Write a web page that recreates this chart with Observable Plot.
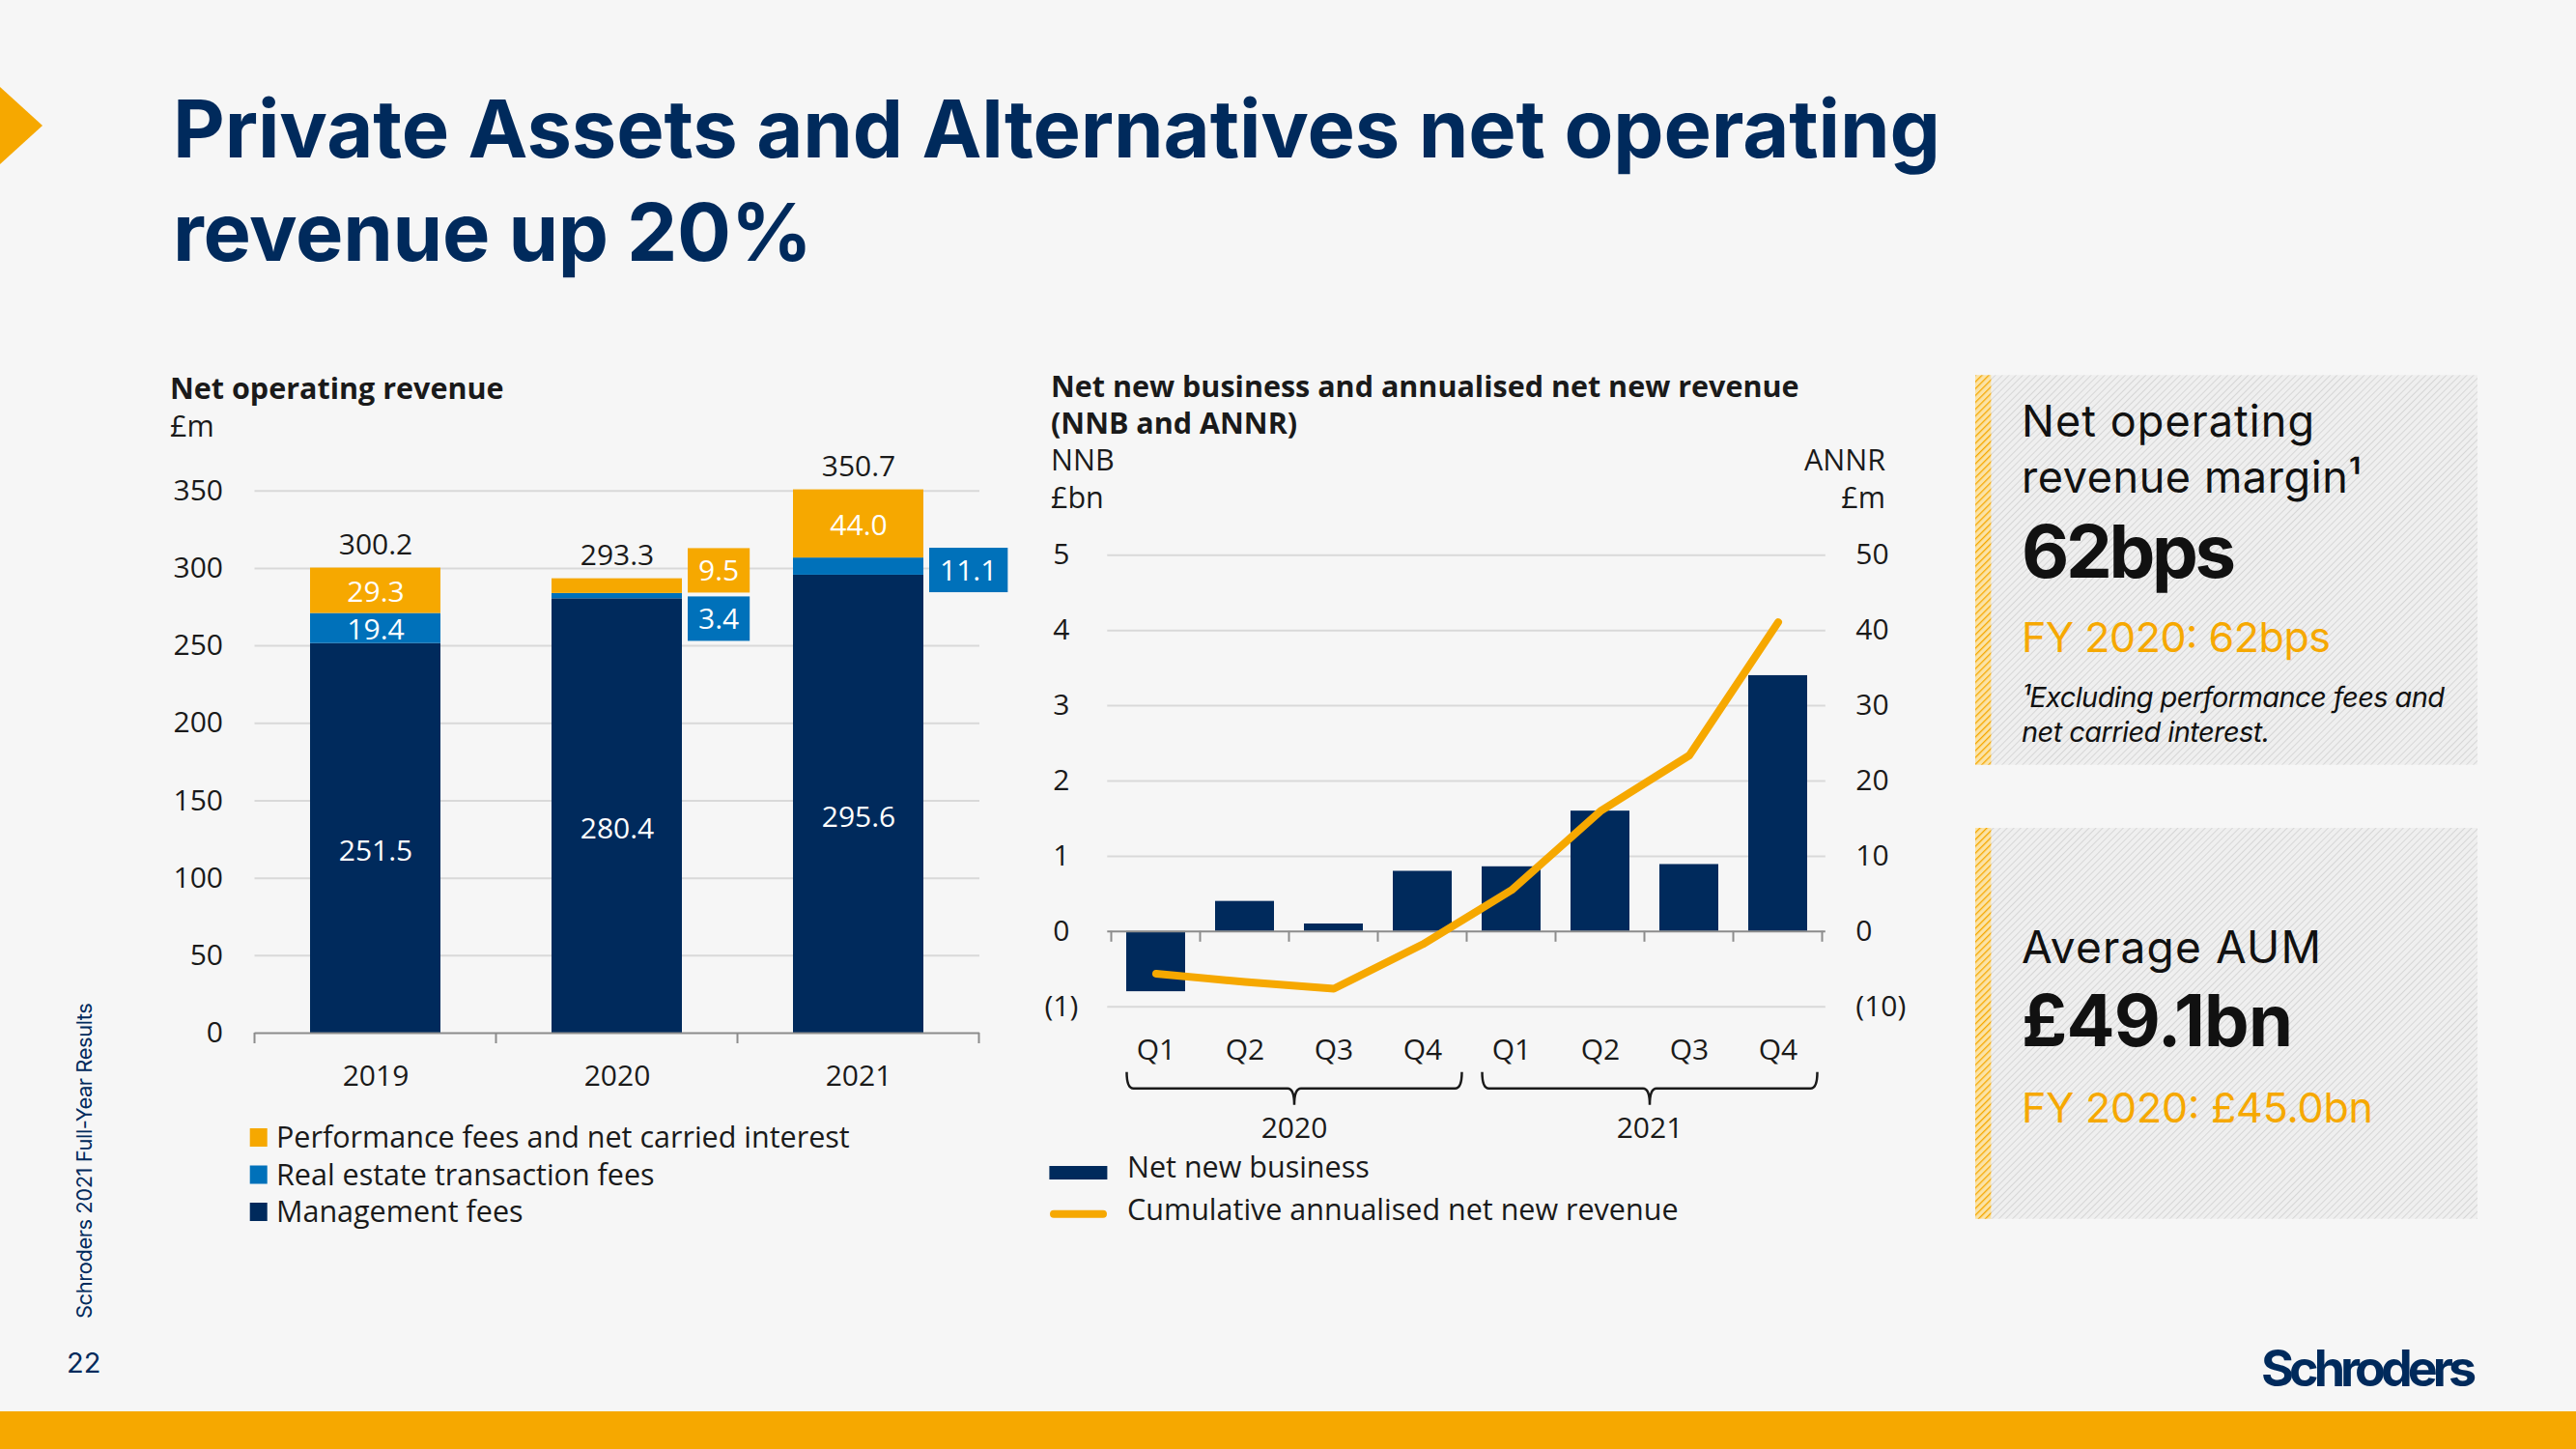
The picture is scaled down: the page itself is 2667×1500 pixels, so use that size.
<!DOCTYPE html>
<html>
<head>
<meta charset="utf-8">
<script src="https://cdn.jsdelivr.net/npm/d3@7"></script>
<script src="https://cdn.jsdelivr.net/npm/@observablehq/plot@0.6"></script>
<style>
  html, body { margin: 0; padding: 0; background: #f6f6f6; overflow: hidden; }
  #page { position: relative; width: 2667px; height: 1500px; background: #f6f6f6; overflow: hidden; }
  #deco { position: absolute; left: 0; top: 0; }
  .chart { position: absolute; }
</style>
</head>
<body>
<div id="page">
  <svg id="deco" width="2667" height="1500"></svg>
  <div id="left" class="chart" style="left:160px; top:440px;"></div>
  <div id="right" class="chart" style="left:1060px; top:540px;"></div>
</div>
<script>
// ---------------- DATA ----------------
const years = ["2019", "2020", "2021"];
const managementFees = [251.5, 280.4, 295.6];
const realEstateFees = [19.4, 3.4, 11.1];
const performanceFees = [29.3, 9.5, 44.0];
const totals = [300.2, 293.3, 350.7];
const seriesNames = ["Performance fees and net carried interest", "Real estate transaction fees", "Management fees"];
const revenueTicks = [0, 50, 100, 150, 200, 250, 300, 350];

const quarterLabels = ["Q1", "Q2", "Q3", "Q4", "Q1", "Q2", "Q3", "Q4"];
const quarterYears = ["2020", "2020", "2020", "2020", "2021", "2021", "2021", "2021"];
const nnb = [-0.8, 0.4, 0.1, 0.8, 0.86, 1.6, 0.89, 3.4];        // £bn
const annr = [-5.6, -6.7, -7.6, -1.7, 5.5, 16.0, 23.4, 41.1];   // £m, cumulative
const nnbTicks = [-1, 0, 1, 2, 3, 4, 5];
const annrTicks = [-10, 0, 10, 20, 30, 40, 50];
const groupYears = ["2020", "2021"];
const nnbLegend = ["Net new business", "Cumulative annualised net new revenue"];

// ---------------- STYLE ----------------
const navy = "#002A5C", orange = "#F6A800", blue = "#0071BA";
const gridC = "#d9d9d9", axisC = "#8c8c8c", ink = "#1a1a1a";
const bodyFont = "Open Sans";
const hdr = 30.5;

const paren = d => d < 0 ? `(${-d})` : `${d}`;
const canvas = document.createElement("canvas").getContext("2d");
function measure(s, font) { canvas.font = font; return canvas.measureText(s).width; }

// ---------------- LEFT CHART ----------------
const stackData = [];
years.forEach((yr, i) => {
  stackData.push({year: yr, series: seriesNames[2], value: managementFees[i]});
  stackData.push({year: yr, series: seriesNames[1], value: realEstateFees[i]});
  stackData.push({year: yr, series: seriesNames[0], value: performanceFees[i]});
});
const totalData = years.map((yr, i) => ({year: yr, total: totals[i]}));

const left = Plot.plot({
  width: 900, height: 720,
  marginTop: 67.7, marginBottom: 91, marginLeft: 103.5, marginRight: 46,
  style: {fontFamily: bodyFont, fontSize: "30px", background: "transparent", color: ink, overflow: "visible"},
  x: {domain: years, paddingInner: 0.46, paddingOuter: 0.23, label: null},
  y: {domain: [0, 350], label: null},
  color: {domain: seriesNames, range: [orange, blue, navy]},
  marks: [
    Plot.gridY(revenueTicks.filter(d => d !== 0), {stroke: gridC, strokeOpacity: 1, strokeWidth: 2}),
    Plot.barY(stackData, {x: "year", y: "value", fill: "series"}),
    Plot.ruleY([0], {stroke: axisC, strokeWidth: 2}),
    Plot.text(stackData, Plot.stackY({x: "year", y: "value",
      text: d => (d.series !== seriesNames[2] && d.value >= 15) ? d.value.toFixed(1) : "",
      fill: "white", fontSize: 30, dy: 2})),
    Plot.text(stackData, Plot.stackY({x: "year", y: "value",
      text: d => d.series === seriesNames[2] ? d.value.toFixed(1) : "",
      fill: "white", fontSize: 30, dy: 14})),
    Plot.text(totalData, {x: "year", y: "total", text: d => d.total.toFixed(1),
      lineAnchor: "bottom", dy: -14, fill: ink, fontSize: 30}),
    Plot.axisY(revenueTicks, {tickSize: 0, tickPadding: 33, label: null, fontSize: 30}),
    Plot.axisX({tickSize: 0, tickPadding: 33, label: null, fontSize: 30})
  ]
});
document.getElementById("left").appendChild(left);

(function decorateLeft() {
  const sx = left.scale("x"), sy = left.scale("y");
  const bw = sx.bandwidth;
  const step = sx.step || (sx.apply(years[1]) - sx.apply(years[0]));
  const g = d3.select(left).append("g");
  const y0 = sy.apply(0);
  const start = sx.apply(years[0]) - (step - bw) / 2;
  for (let k = 0; k <= years.length; k++) {
    const x = start + k * step;
    g.append("line").attr("x1", x).attr("x2", x).attr("y1", y0).attr("y2", y0 + 11)
      .attr("stroke", axisC).attr("stroke-width", 2);
  }
  // callouts for segments too small to hold their labels
  years.forEach((yr, i) => {
    const segs = [
      {v: performanceFees[i], lo: managementFees[i] + realEstateFees[i], color: orange},
      {v: realEstateFees[i], lo: managementFees[i], color: blue}
    ].filter(s => s.v < 15);
    if (!segs.length) return;
    const h = 46, gap = 4;
    const mids = segs.map(s => sy.apply(s.lo + s.v / 2));
    let top = d3.mean(mids) + 4 - (segs.length * h + (segs.length - 1) * gap) / 2;
    const x0 = sx.apply(yr) + bw + 6;
    segs.forEach(s => {
      const label = s.v.toFixed(1);
      const w = Math.max(58, measure(label, `30px "${bodyFont}"`) + 22);
      g.append("rect").attr("x", x0).attr("y", top).attr("width", w).attr("height", h).attr("fill", s.color);
      g.append("text").attr("x", x0 + w / 2).attr("y", top + h / 2).attr("dy", "0.35em")
        .attr("text-anchor", "middle").attr("fill", "white").attr("font-size", 30)
        .attr("font-family", bodyFont).text(label);
      top += h + gap;
    });
  });
})();

// ---------------- RIGHT CHART ----------------
const qData = quarterLabels.map((q, i) => ({key: quarterYears[i] + " " + q, q, year: quarterYears[i], nnb: nnb[i], annr: annr[i]}));
const qKeys = qData.map(d => d.key);

const right = Plot.plot({
  width: 960, height: 660,
  marginTop: 34.3, marginBottom: 158.3, marginLeft: 86.3, marginRight: 130.2,
  style: {fontFamily: bodyFont, fontSize: "30px", background: "transparent", color: ink, overflow: "visible"},
  x: {domain: qKeys, paddingInner: 0.337, paddingOuter: 0.1685, label: null},
  y: {domain: [-1, 5], label: null},
  marks: [
    Plot.gridY(nnbTicks.filter(d => d !== 0), {stroke: gridC, strokeOpacity: 1, strokeWidth: 2}),
    Plot.barY(qData, {x: "key", y: "nnb", fill: navy}),
    Plot.ruleY([0], {stroke: axisC, strokeWidth: 2}),
    Plot.line(qData, {x: "key", y: d => d.annr / 10, stroke: orange, strokeWidth: 8,
      strokeLinecap: "round", strokeLinejoin: "round"}),
    Plot.axisY(nnbTicks, {anchor: "left", tickSize: 0, tickPadding: 48, textAnchor: "middle",
      tickFormat: paren, label: null, fontSize: 30}),
    Plot.axisY(annrTicks.map(d => d / 10), {anchor: "right", tickSize: 0, tickPadding: 31,
      tickFormat: d => paren(Math.round(d * 10)), label: null, fontSize: 30}),
    Plot.axisX({tickSize: 0, tickPadding: 33, tickFormat: k => k.split(" ")[1], label: null, fontSize: 30})
  ]
});
document.getElementById("right").appendChild(right);

(function decorateRight() {
  const sx = right.scale("x"), sy = right.scale("y");
  const bw = sx.bandwidth;
  const step = sx.step || (sx.apply(qKeys[1]) - sx.apply(qKeys[0]));
  const g = d3.select(right).append("g");
  const y0 = sy.apply(0), yb = sy.apply(-1);
  const start = sx.apply(qKeys[0]) - (step - bw) / 2;
  for (let k = 0; k <= qKeys.length; k++) {
    const x = start + k * step;
    g.append("line").attr("x1", x).attr("x2", x).attr("y1", y0).attr("y2", y0 + 11)
      .attr("stroke", axisC).attr("stroke-width", 2);
  }
  // year brackets
  groupYears.forEach(yr => {
    const idx = qKeys.map((k, i) => i).filter(i => quarterYears[i] === yr);
    const first = idx[0], last = idx[idx.length - 1];
    const x1 = start + first * step + 16;
    const x2 = start + (last + 1) * step - 5;
    const cx = (x1 + x2) / 2;
    const yt = yb + 68, yh = yb + 85, yn = yb + 102, r = 7;
    const path = `M${x1},${yt} Q${x1},${yh} ${x1 + r},${yh} L${cx - r},${yh} Q${cx},${yh} ${cx},${yn} ` +
                 `M${cx},${yn} Q${cx},${yh} ${cx + r},${yh} L${x2 - r},${yh} Q${x2},${yh} ${x2},${yt}`;
    g.append("path").attr("d", path).attr("fill", "none").attr("stroke", ink).attr("stroke-width", 2.5);
    g.append("text").attr("x", cx).attr("y", yb + 136).attr("text-anchor", "middle")
      .attr("font-family", bodyFont).attr("font-size", 30).attr("fill", ink).text(yr);
  });
})();

// ---------------- DECORATION / TEXT ----------------
const deco = d3.select("#deco");
const defs = deco.append("defs");
const hatch = defs.append("pattern").attr("id", "hatch").attr("width", 5).attr("height", 5)
  .attr("patternUnits", "userSpaceOnUse").attr("patternTransform", "rotate(45)");
hatch.append("rect").attr("width", 5).attr("height", 5).attr("fill", "#efefef");
hatch.append("line").attr("x1", 0).attr("y1", 0).attr("x2", 0).attr("y2", 5).attr("stroke", "#d6d6d6").attr("stroke-width", 2);
const ohatch = defs.append("pattern").attr("id", "ohatch").attr("width", 5).attr("height", 5)
  .attr("patternUnits", "userSpaceOnUse").attr("patternTransform", "rotate(45)");
ohatch.append("rect").attr("width", 5).attr("height", 5).attr("fill", "#fbe3a6");
ohatch.append("line").attr("x1", 0).attr("y1", 0).attr("x2", 0).attr("y2", 5).attr("stroke", orange).attr("stroke-width", 2.6);

function txt(x, y, s, o = {}) {
  const t = deco.append("text").attr("x", x).attr("y", y)
    .attr("font-family", o.family || bodyFont).attr("font-size", o.size || 30)
    .attr("font-weight", o.weight || 400).attr("fill", o.fill || ink).text(s);
  if (o.anchor) t.attr("text-anchor", o.anchor);
  if (o.italic) t.attr("font-style", "italic");
  if (o.len) t.attr("textLength", o.len).attr("lengthAdjust", "spacing");
  if (o.transform) t.attr("transform", o.transform);
  return t;
}

// arrow + title
deco.append("path").attr("d", "M0,90 L44,130 L0,170 Z").attr("fill", orange);
txt(179, 163, "Private Assets and Alternatives net operating", {family: "Inter", size: 83, weight: 700, fill: navy, len: 1830});
txt(179, 270, "revenue up 20%", {family: "Inter", size: 83, weight: 700, fill: navy, len: 662});

// left chart header & legend
txt(176, 413, "Net operating revenue", {size: hdr, weight: 700});
txt(176, 452, "£m", {size: hdr});
const legColors = [orange, blue, navy];
const legY = [1177.5, 1216, 1254.5];
seriesNames.forEach((s, i) => {
  deco.append("rect").attr("x", 258.7).attr("y", legY[i] - 9.5).attr("width", 18).attr("height", 19).attr("fill", legColors[i]);
  txt(286, legY[i] + 10.5, s, {size: hdr});
});

// right chart header & legend
txt(1088, 411, "Net new business and annualised net new revenue", {size: hdr, weight: 700});
txt(1088, 449, "(NNB and ANNR)", {size: hdr, weight: 700});
txt(1088, 487, "NNB", {size: hdr});
txt(1088, 526, "£bn", {size: hdr});
txt(1952, 487, "ANNR", {size: hdr, anchor: "end"});
txt(1952, 526, "£m", {size: hdr, anchor: "end"});
deco.append("rect").attr("x", 1086.4).attr("y", 1207).attr("width", 60).attr("height", 14).attr("fill", navy);
txt(1167, 1219, nnbLegend[0], {size: hdr});
deco.append("line").attr("x1", 1091).attr("x2", 1142).attr("y1", 1256.7).attr("y2", 1256.7)
  .attr("stroke", orange).attr("stroke-width", 8).attr("stroke-linecap", "round");
txt(1167, 1263, nnbLegend[1], {size: hdr});

// KPI panels
function panel(y1, y2) {
  deco.append("rect").attr("x", 2045).attr("y", y1).attr("width", 520).attr("height", y2 - y1).attr("fill", "url(#hatch)");
  deco.append("rect").attr("x", 2045).attr("y", y1).attr("width", 16.4).attr("height", y2 - y1).attr("fill", "url(#ohatch)");
}
panel(388.3, 791.7);
panel(857, 1261.7);
const pf = "Inter";
txt(2093, 451.7, "Net operating", {family: pf, size: 45, len: 303, fill: "#111"});
txt(2093, 510, "revenue margin¹", {family: pf, size: 45, len: 352, fill: "#111"});
txt(2093, 598, "62bps", {family: pf, size: 76, weight: 700, len: 222, fill: "#111"});
txt(2093, 675, "FY 2020: 62bps", {family: pf, size: 43, len: 320, fill: orange});
txt(2093, 731.7, "¹Excluding performance fees and", {family: pf, size: 29, italic: true, len: 438, fill: "#111"});
txt(2093, 768, "net carried interest.", {family: pf, size: 29, italic: true, len: 257, fill: "#111"});
txt(2093, 996.7, "Average AUM", {family: pf, size: 46, len: 310, fill: "#111"});
txt(2093, 1083, "£49.1bn", {family: pf, size: 74, weight: 700, len: 281, fill: "#111"});
txt(2093, 1161.7, "FY 2020: £45.0bn", {family: pf, size: 43, len: 364, fill: orange});

// footer
deco.append("rect").attr("x", 0).attr("y", 1461).attr("width", 2667).attr("height", 39).attr("fill", orange);
txt(69, 1421, "22", {family: "Inter", size: 29, fill: navy});
txt(0, 0, "Schroders 2021 Full-Year Results", {family: "Inter", size: 22, fill: navy, len: 327,
  transform: "translate(95,1365) rotate(-90)"});
txt(2341, 1435, "Schroders", {family: "Inter", size: 52, weight: 700, fill: navy, len: 223});
</script>
</body>
</html>
